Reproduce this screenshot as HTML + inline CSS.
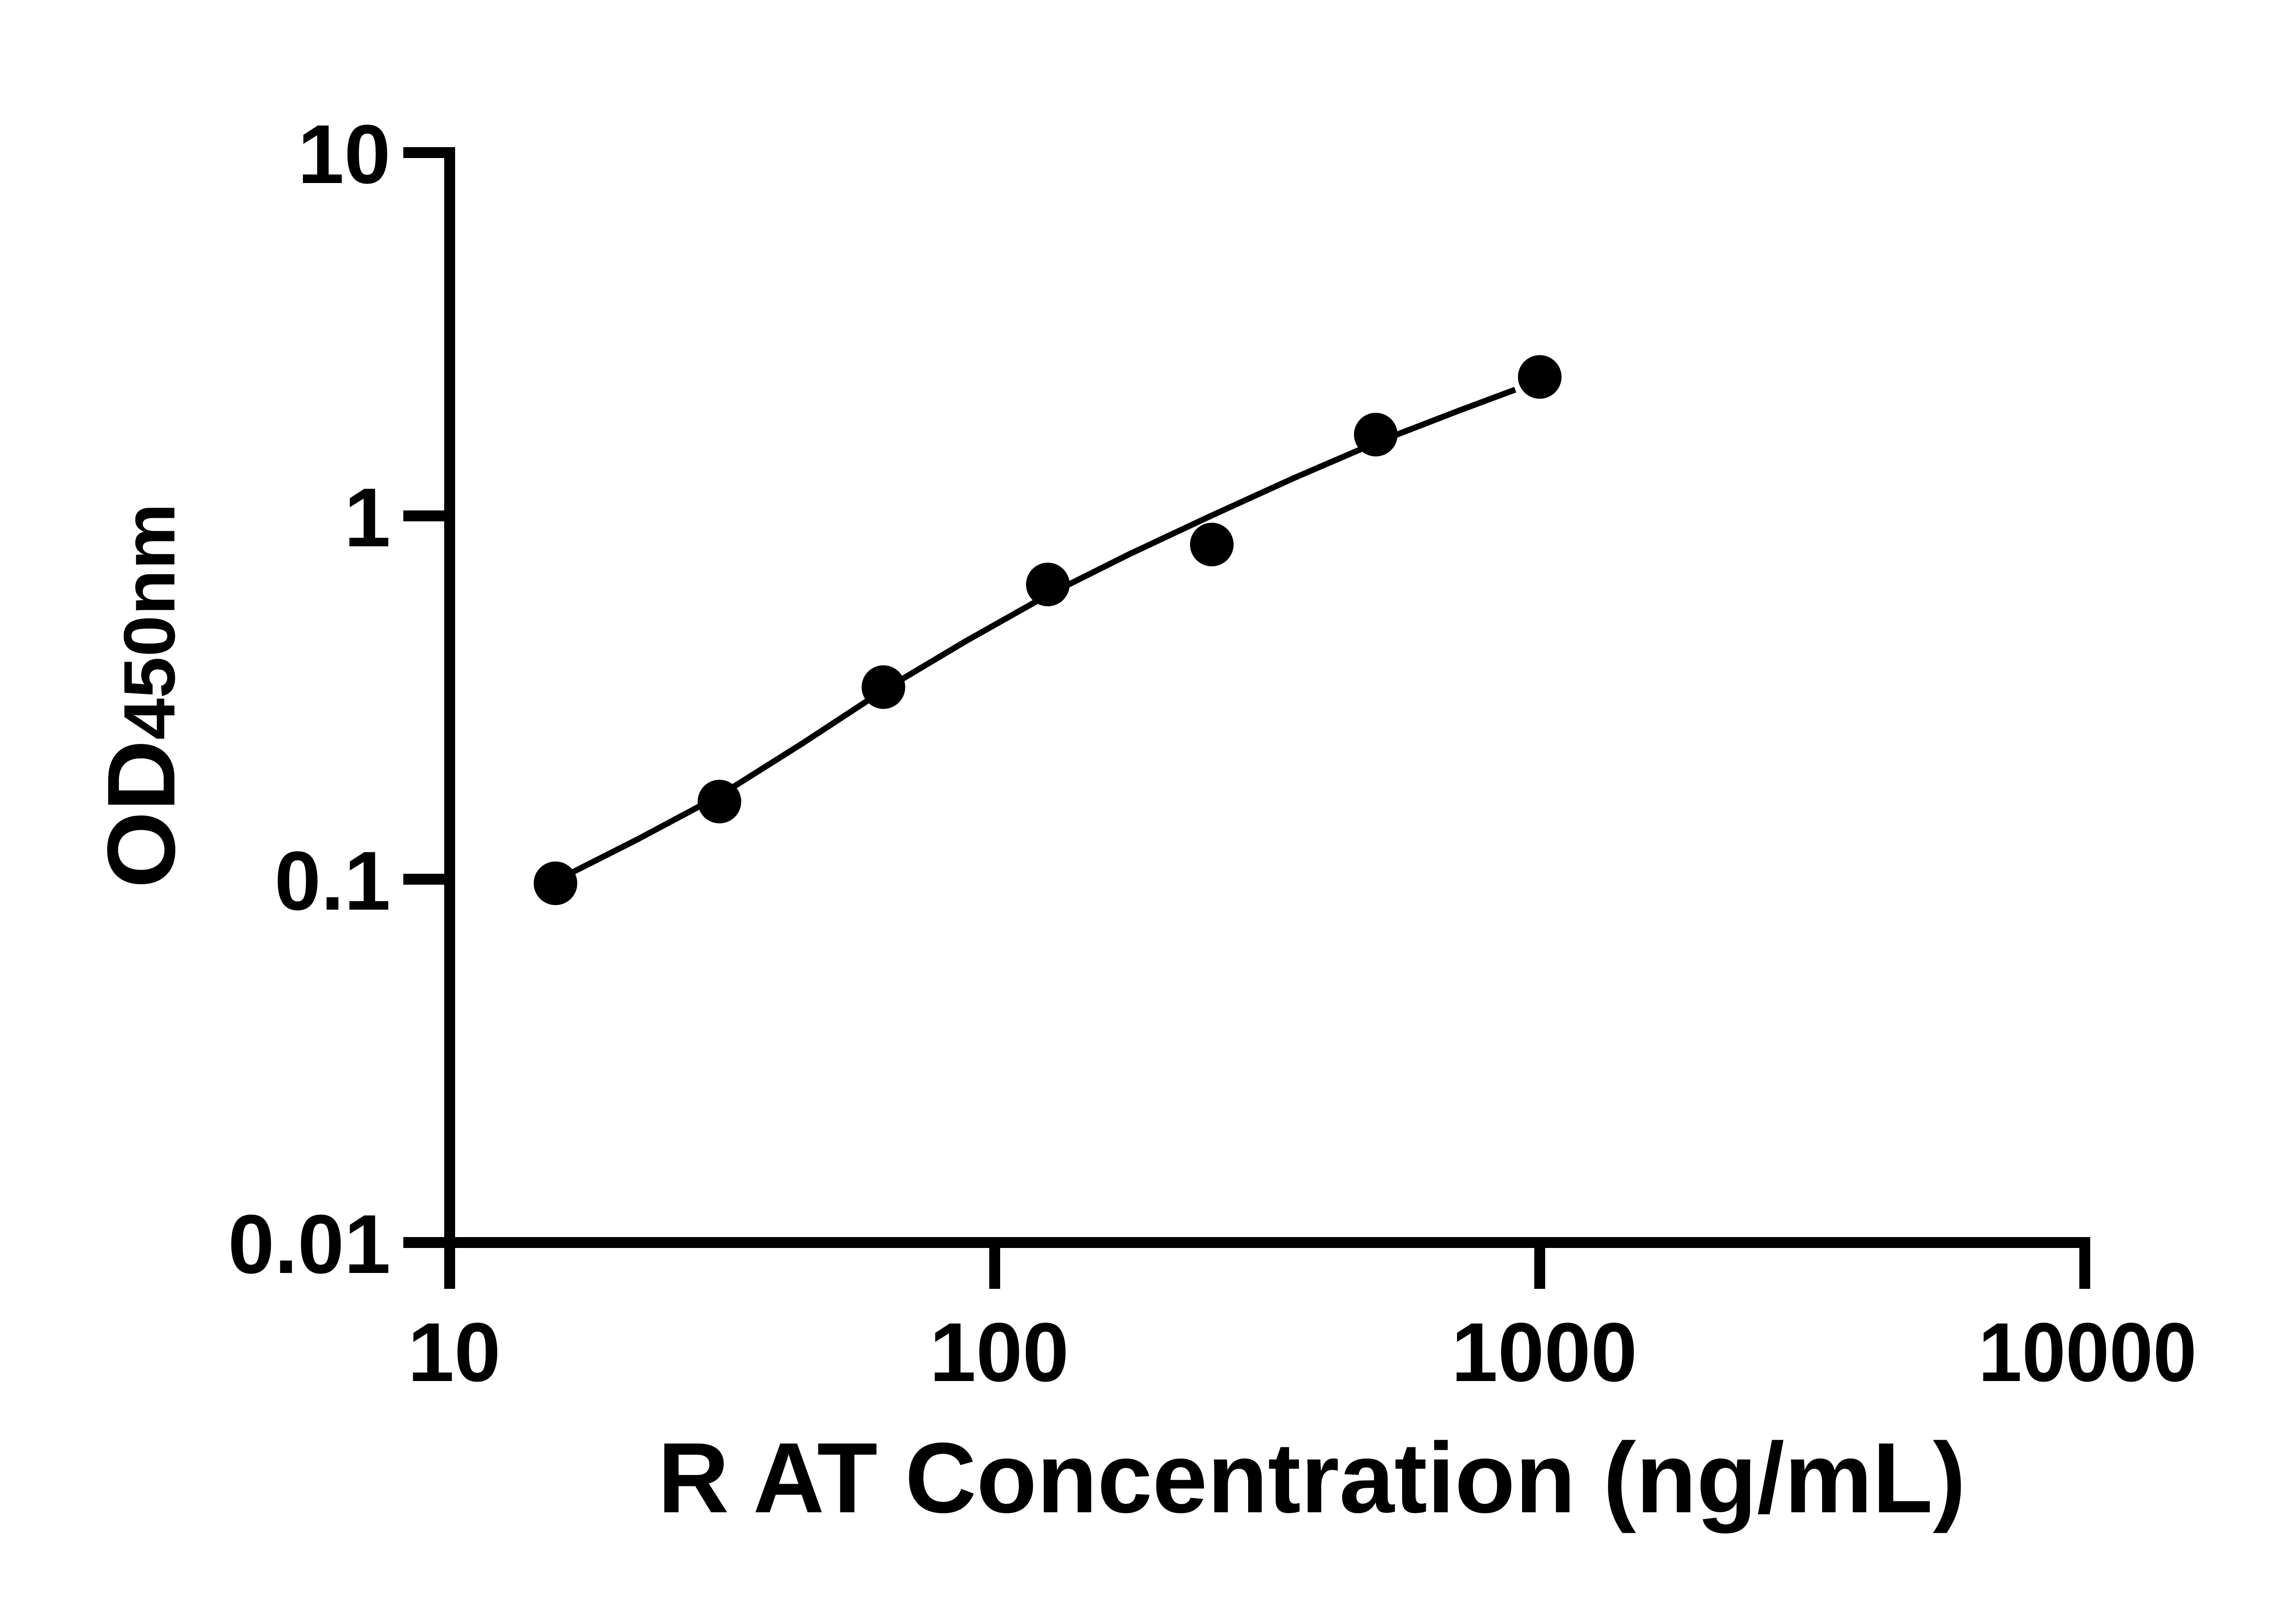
<!DOCTYPE html>
<html><head><meta charset="utf-8"><style>html,body{margin:0;padding:0;background:#fff}svg{display:block}</style></head>
<body>
<svg width="5142" height="3576" viewBox="0 0 5142 3576" xmlns="http://www.w3.org/2000/svg">
<rect width="5142" height="3576" fill="#fff"/>
<g fill="#000">
<rect x="978" y="324" width="24" height="2424"/>
<rect x="888" y="2724" width="3714" height="24"/>
<rect x="888" y="324" width="114" height="24"/>
<rect x="888" y="1124" width="114" height="24"/>
<rect x="888" y="1924" width="114" height="24"/>
<rect x="978" y="2724" width="24" height="114"/>
<rect x="2178" y="2724" width="24" height="114"/>
<rect x="3378" y="2724" width="24" height="114"/>
<rect x="4578" y="2724" width="24" height="114"/>
</g>
<g font-family="Liberation Sans, sans-serif" font-weight="bold" font-size="184" fill="#000">
<text x="860" y="403" text-anchor="end">10</text>
<text x="860" y="1203" text-anchor="end">1</text>
<text x="860" y="2003" text-anchor="end">0.1</text>
<text x="860" y="2803" text-anchor="end">0.01</text>
<text x="1000" y="3041" text-anchor="middle">10</text>
<text x="2200" y="3041" text-anchor="middle">100</text>
<text x="3400" y="3041" text-anchor="middle">1000</text>
<text x="4596" y="3041" text-anchor="middle" textLength="481" lengthAdjust="spacingAndGlyphs">10000</text>
</g>
<text x="2888" y="3330" text-anchor="middle" font-family="Liberation Sans, sans-serif" font-weight="bold" font-size="220" textLength="2880" lengthAdjust="spacingAndGlyphs">R AT Concentration (ng/mL)</text>
<text transform="translate(384,1532) rotate(-90)" text-anchor="middle" font-family="Liberation Sans, sans-serif" font-weight="bold" textLength="848" lengthAdjust="spacingAndGlyphs"><tspan font-size="212">OD</tspan><tspan font-size="160">450nm</tspan></text>
<polyline fill="none" stroke="#000" stroke-width="13" stroke-linejoin="round" points="1252,1925 1404,1848 1584,1752 1765,1638 1945,1520 2126,1412 2307,1310 2487,1220 2668,1135 2848,1053 3029,975 3210,905 3336,858"/>
<g fill="#000">
<circle cx="1223" cy="1945" r="48"/>
<circle cx="1584" cy="1765" r="48"/>
<circle cx="1945" cy="1513" r="48"/>
<circle cx="2307" cy="1287" r="48"/>
<circle cx="2668" cy="1199" r="48"/>
<circle cx="3029" cy="957" r="48"/>
<circle cx="3390" cy="830" r="48"/>
</g>
</svg>
</body></html>
